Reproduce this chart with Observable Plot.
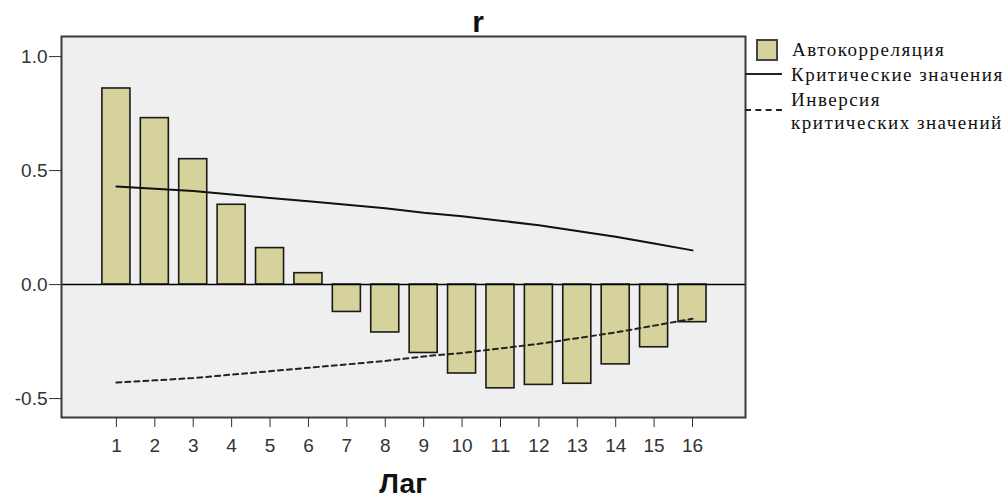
<!DOCTYPE html>
<html>
<head>
<meta charset="utf-8">
<script src="https://cdn.jsdelivr.net/npm/d3@7"></script>
<script src="https://cdn.jsdelivr.net/npm/@observablehq/plot@0.6"></script>
<style>
  html, body { margin: 0; padding: 0; background: #fff; }
  #wrap { position: relative; width: 1008px; height: 503px; overflow: hidden; font-family: Arial, "Liberation Sans", sans-serif; }
  #wrap svg { position: absolute; left: 0; top: 0; }
  .title { position: absolute; left: 478px; top: 6px; transform: translateX(-50%); font-weight: bold; font-size: 30px; line-height: 32px; color: #111; }
  .xlabel { position: absolute; left: 403px; top: 468px; transform: translateX(-50%); font-weight: bold; font-size: 28px; line-height: 32px; color: #111; }
  .legend { position: absolute; left: 745px; top: 36px; font-family: "Liberation Serif", "DejaVu Serif", serif; font-size: 19px; line-height: 22px; color: #111; letter-spacing: 1.5px; }
  .lg-item { position: absolute; white-space: nowrap; }
  .swatch { position: absolute; width: 18px; height: 18px; background: #d5d29b; border: 2px solid #444; }
  .solid { position: absolute; width: 37px; border-top: 2px solid #222; }
  .dashed { position: absolute; width: 37px; border-top: 2px dashed #222; }
</style>
</head>
<body>
<div id="wrap"></div>
<script>
// ---- data ----
const lags = [1, 2, 3, 4, 5, 6, 7, 8, 9, 10, 11, 12, 13, 14, 15, 16];
const autocorrelation = [0.86, 0.73, 0.55, 0.35, 0.16, 0.05, -0.12, -0.21, -0.30, -0.39, -0.455, -0.44, -0.435, -0.35, -0.275, -0.165];
const criticalValues = [0.43, 0.42, 0.41, 0.395, 0.38, 0.365, 0.35, 0.335, 0.315, 0.30, 0.28, 0.26, 0.235, 0.21, 0.18, 0.15];
const yTickValues = [-0.5, 0.0, 0.5, 1.0];
const yTickLabels = ["-0.5", "0.0", "0.5", "1.0"];
const titleText = "r";
const xAxisTitle = "Лаг";
const legendLabels = ["Автокорреляция", "Критические значения", "Инверсия", "критических значений"];

const data = lags.map((lag, i) => ({ lag, r: autocorrelation[i], crit: criticalValues[i], inv: -criticalValues[i] }));
const halfBar = 0.365;

const chart = Plot.plot({
  width: 1008,
  height: 503,
  marginLeft: 61,
  marginRight: 263,
  marginTop: 36,
  marginBottom: 86,
  style: { background: "transparent", fontFamily: "Arial, 'Liberation Sans', sans-serif" },
  x: { type: "linear", domain: [-0.43, 17.38] },
  y: { type: "linear", domain: [-0.583, 1.088] },
  marks: [
    Plot.frame({ fill: "#efefef", stroke: null }),
    Plot.rectY(data, { x1: d => d.lag - halfBar, x2: d => d.lag + halfBar, y1: 0, y2: "r", fill: "#d5d29b", stroke: "#1a1a1a", strokeWidth: 1.6 }),
    Plot.ruleY([0], { stroke: "#000", strokeWidth: 1.6 }),
    Plot.lineY(data, { x: "lag", y: "crit", stroke: "#111", strokeWidth: 2 }),
    Plot.lineY(data, { x: "lag", y: "inv", stroke: "#222", strokeWidth: 2, strokeDasharray: "5,4" }),
    Plot.frame({ stroke: "#3a3a3a", strokeWidth: 2 }),
    Plot.axisX({ ticks: lags, tickFormat: d => String(d), tickSize: 10, tickPadding: 11, fontSize: 19, label: null, stroke: "#333", fill: "#333" }),
    Plot.axisY({ ticks: yTickValues, tickFormat: d => yTickLabels[yTickValues.indexOf(d)], tickSize: 12, tickPadding: 2, fontSize: 19, label: null, stroke: "#333", fill: "#333" })
  ]
});

const wrap = document.getElementById("wrap");
wrap.appendChild(chart);

const t = document.createElement("div");
t.className = "title"; t.textContent = titleText; wrap.appendChild(t);
const xl = document.createElement("div");
xl.className = "xlabel"; xl.textContent = xAxisTitle; wrap.appendChild(xl);

const lg = document.createElement("div");
lg.className = "legend";
lg.innerHTML = `
  <div class="swatch" style="left:11px; top:3px;"></div>
  <div class="lg-item" style="left:47px; top:3px;">${legendLabels[0]}</div>
  <div class="solid" style="left:0px; top:37px;"></div>
  <div class="lg-item" style="left:46px; top:28px;">${legendLabels[1]}</div>
  <div class="dashed" style="left:0px; top:73px;"></div>
  <div class="lg-item" style="left:46px; top:53px;">${legendLabels[2]}</div>
  <div class="lg-item" style="left:46px; top:76px;">${legendLabels[3]}</div>
`;
wrap.appendChild(lg);
</script>
</body>
</html>
